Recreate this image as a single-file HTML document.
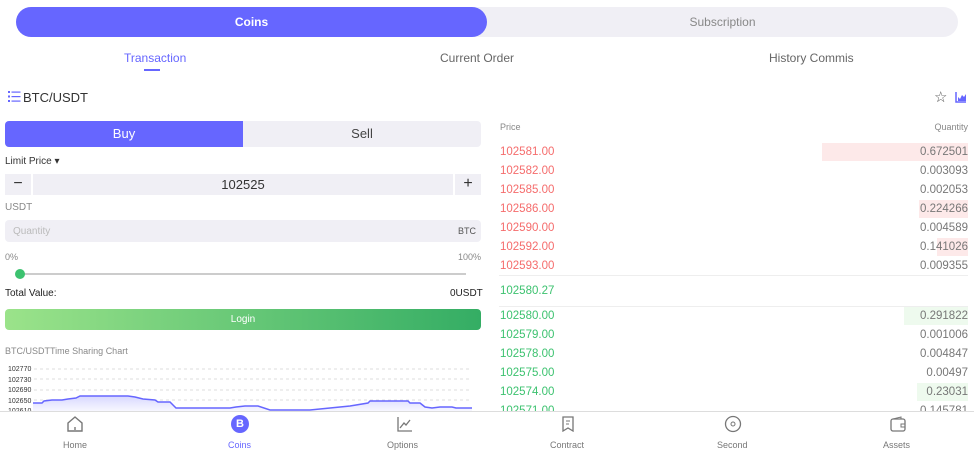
<!DOCTYPE html>
<html><head><style>
*{margin:0;padding:0;box-sizing:border-box}
body{width:974px;height:449px;overflow:hidden;background:#fff;font-family:"Liberation Sans",sans-serif;position:relative;color:#333}
.a{position:absolute;white-space:nowrap}
.r{color:#f56c6c;font-size:11.5px}
.g{color:#3cc26f;font-size:11.5px}
.q{color:#777;font-size:11.5px;text-align:right;right:6px}
</style></head><body>
<div class="a" style="left:16px;top:7px;width:942px;height:30px;background:#f0eff5;border-radius:15px"></div>
<div class="a" style="left:16px;top:7px;width:471px;height:30px;background:#6666ff;border-radius:15px;color:#fff;font-weight:bold;font-size:12px;text-align:center;line-height:30px">Coins</div>
<div class="a" style="left:487px;top:7px;width:471px;height:30px;color:#888;font-size:12px;text-align:center;line-height:30px">Subscription</div>
<div class="a" style="left:124px;top:51px;font-size:12px;color:#6666ff">Transaction</div>
<div class="a" style="left:144px;top:69px;width:16px;height:2px;background:#6666ff"></div>
<div class="a" style="left:440px;top:51px;font-size:12px;color:#666">Current Order</div>
<div class="a" style="left:769px;top:51px;font-size:12px;color:#666">History Commis</div>
<svg class="a" style="left:8px;top:91px" width="13" height="11"><g fill="#6666ff"><rect x="0" y="0" width="2" height="2"/><rect x="0" y="4.5" width="2" height="2"/><rect x="0" y="9" width="2" height="2"/><rect x="3.5" y="0.5" width="9" height="1.2"/><rect x="3.5" y="5" width="9" height="1.2"/><rect x="3.5" y="9.5" width="9" height="1.2"/></g></svg>
<div class="a" style="left:23px;top:90px;font-size:13px;color:#333">BTC/USDT</div>
<div class="a" style="left:934px;top:88px;font-size:15px;color:#555">☆</div>
<svg class="a" style="left:955px;top:91px" width="12" height="12"><path d="M1 1V11H11" stroke="#6666ff" fill="none" stroke-width="1.5"/><path d="M3 10V6L5 8L7 4L9 6L11 3V10Z" fill="#6666ff"/></svg>
<div class="a" style="left:5px;top:121px;width:476px;height:26px;background:#f0eff5;border-radius:4px"></div>
<div class="a" style="left:5px;top:121px;width:238px;height:26px;background:#6666ff;border-radius:4px 0 0 4px;color:#fff;font-size:13px;text-align:center;line-height:26px">Buy</div>
<div class="a" style="left:243px;top:121px;width:238px;height:26px;color:#444;font-size:13px;text-align:center;line-height:26px">Sell</div>
<div class="a" style="left:5px;top:156px;font-size:10px;color:#333">Limit Price ▾</div>
<div class="a" style="left:5px;top:174px;width:26px;height:21px;background:#f0eff5;font-size:16px;text-align:center;line-height:20px">−</div>
<div class="a" style="left:33px;top:174px;width:420px;height:21px;background:#f0eff5;font-size:13px;text-align:center;line-height:21px">102525</div>
<div class="a" style="left:455px;top:174px;width:26px;height:21px;background:#f0eff5;font-size:16px;text-align:center;line-height:20px">+</div>
<div class="a" style="left:5px;top:202px;font-size:10px;color:#888">USDT</div>
<div class="a" style="left:5px;top:220px;width:476px;height:22px;background:#f0eff5;border-radius:4px"></div>
<div class="a" style="left:13px;top:226px;font-size:10px;color:#bbb">Quantity</div>
<div class="a" style="left:458px;top:226px;font-size:9px;color:#555">BTC</div>
<div class="a" style="left:5px;top:252px;font-size:9px;color:#888">0%</div>
<div class="a" style="left:458px;top:252px;font-size:9px;color:#888">100%</div>
<div class="a" style="left:20px;top:273px;width:446px;height:2px;background:#ccc"></div>
<div class="a" style="left:15px;top:269px;width:10px;height:10px;border-radius:5px;background:#3cc26f"></div>
<div class="a" style="left:5px;top:288px;font-size:10px;color:#222">Total Value:</div>
<div class="a" style="left:450px;top:288px;font-size:10px;color:#222">0USDT</div>
<div class="a" style="left:5px;top:309px;width:476px;height:21px;border-radius:4px;background:linear-gradient(90deg,#9be38a,#34ad64);color:#fff;font-size:10px;text-align:center;line-height:21px">Login</div>
<div class="a" style="left:5px;top:346px;font-size:9px;color:#888">BTC/USDTTime Sharing Chart</div>
<div class="a" style="left:8px;top:365px;font-size:7px;color:#333;line-height:10.5px">102770<br>102730<br>102690<br>102650<br>102610</div>
<svg class="a" style="left:0;top:360px" width="490" height="51">
<g stroke="#ddd" stroke-dasharray="3,3"><line x1="34" y1="9" x2="472" y2="9"/><line x1="34" y1="19" x2="472" y2="19"/><line x1="34" y1="30" x2="472" y2="30"/><line x1="34" y1="40" x2="472" y2="40"/></g>
<defs><linearGradient id="f" x1="0" y1="0" x2="0" y2="1"><stop offset="0" stop-color="#d8d8ff"/><stop offset="1" stop-color="#f7f7ff"/></linearGradient></defs>
<path d="M33 43L42 43L44 41L52 40L62 40L68 39L76 38L80 36L95 36L128 36L135 37L143 39L155 40L158 42L170 42L176 48L230 48L236 47L245 46L258 46L270 50L310 50L330 48L350 46L368 43L370 41L408 41L410 43L420 43L425 47L432 48L440 47L452 47L456 48L472 48L472 51L33 51Z" fill="url(#f)"/>
<path d="M33 43L42 43L44 41L52 40L62 40L68 39L76 38L80 36L95 36L128 36L135 37L143 39L155 40L158 42L170 42L176 48L230 48L236 47L245 46L258 46L270 50L310 50L330 48L350 46L368 43L370 41L408 41L410 43L420 43L425 47L432 48L440 47L452 47L456 48L472 48" stroke="#6666ff" stroke-width="1.5" fill="none"/>
</svg>
<div class="a" style="left:500px;top:122px;font-size:9px;color:#888">Price</div>
<div class="a" style="right:6px;top:122px;font-size:9px;color:#888">Quantity</div>
<div class="a" style="left:822px;top:143px;width:146px;height:18px;background:#fde9e9"></div>
<div class="a" style="left:919px;top:200px;width:49px;height:18px;background:#fde9e9"></div>
<div class="a" style="left:937px;top:238px;width:31px;height:18px;background:#fde9e9"></div>
<div class="a r" style="left:500px;top:146px">102581.00</div><div class="a q" style="top:146px">0.672501</div>
<div class="a r" style="left:500px;top:165px">102582.00</div><div class="a q" style="top:165px">0.003093</div>
<div class="a r" style="left:500px;top:184px">102585.00</div><div class="a q" style="top:184px">0.002053</div>
<div class="a r" style="left:500px;top:203px">102586.00</div><div class="a q" style="top:203px">0.224266</div>
<div class="a r" style="left:500px;top:222px">102590.00</div><div class="a q" style="top:222px">0.004589</div>
<div class="a r" style="left:500px;top:241px">102592.00</div><div class="a q" style="top:241px">0.141026</div>
<div class="a r" style="left:500px;top:260px">102593.00</div><div class="a q" style="top:260px">0.009355</div>
<div class="a" style="left:499px;top:275px;width:469px;height:1px;background:#eee"></div>
<div class="a g" style="left:500px;top:285px">102580.27</div>
<div class="a" style="left:499px;top:306px;width:469px;height:1px;background:#eee"></div>
<div class="a" style="left:904px;top:307px;width:64px;height:18px;background:#eefaee"></div>
<div class="a" style="left:917px;top:383px;width:51px;height:18px;background:#eefaee"></div>
<div class="a g" style="left:500px;top:310px">102580.00</div><div class="a q" style="top:310px">0.291822</div>
<div class="a g" style="left:500px;top:329px">102579.00</div><div class="a q" style="top:329px">0.001006</div>
<div class="a g" style="left:500px;top:348px">102578.00</div><div class="a q" style="top:348px">0.004847</div>
<div class="a g" style="left:500px;top:367px">102575.00</div><div class="a q" style="top:367px">0.00497</div>
<div class="a g" style="left:500px;top:386px">102574.00</div><div class="a q" style="top:386px">0.23031</div>
<div class="a g" style="left:500px;top:405px">102571.00</div><div class="a q" style="top:405px">0.145781</div>
<div class="a" style="left:0;top:411px;width:974px;height:38px;background:#fff;border-top:1px solid #ddd"></div>
<svg class="a" style="left:66px;top:415px" width="18" height="18"><path d="M2 8L9 2L16 8V16H2Z" stroke="#777" stroke-width="1.4" fill="none"/><line x1="9" y1="12" x2="9" y2="15" stroke="#777" stroke-width="1.4"/></svg>
<div class="a" style="left:231px;top:415px;width:18px;height:18px;border-radius:9px;background:#6666ff;color:#fff;font-size:11px;font-weight:bold;text-align:center;line-height:18px">B</div>
<svg class="a" style="left:397px;top:416px" width="16" height="16"><path d="M1 1V15H15" stroke="#777" fill="none" stroke-width="1.3"/><path d="M3 12L7 7L9 9L13 4" stroke="#777" fill="none" stroke-width="1.3"/></svg>
<svg class="a" style="left:561px;top:416px" width="14" height="16"><path d="M2 1H12V15L7 12L2 15Z" stroke="#777" fill="none" stroke-width="1.3"/><path d="M5 5H9M5 8H8" stroke="#777"/></svg>
<svg class="a" style="left:724px;top:415px" width="18" height="18"><circle cx="9" cy="9" r="7.5" stroke="#777" fill="none" stroke-width="1.3"/><circle cx="9" cy="9" r="2" stroke="#777" fill="none"/></svg>
<svg class="a" style="left:890px;top:416px" width="16" height="16"><rect x="1" y="3" width="14" height="12" rx="2" stroke="#777" fill="none" stroke-width="1.3"/><path d="M3 3L11 1V3M11 8H15V11H11Z" stroke="#777" fill="none"/></svg>
<div class="a" style="left:63px;top:440px;font-size:9px;color:#777">Home</div>
<div class="a" style="left:228px;top:440px;font-size:9px;color:#6666ff">Coins</div>
<div class="a" style="left:387px;top:440px;font-size:9px;color:#777">Options</div>
<div class="a" style="left:550px;top:440px;font-size:9px;color:#777">Contract</div>
<div class="a" style="left:717px;top:440px;font-size:9px;color:#777">Second</div>
<div class="a" style="left:883px;top:440px;font-size:9px;color:#777">Assets</div>
</body></html>
